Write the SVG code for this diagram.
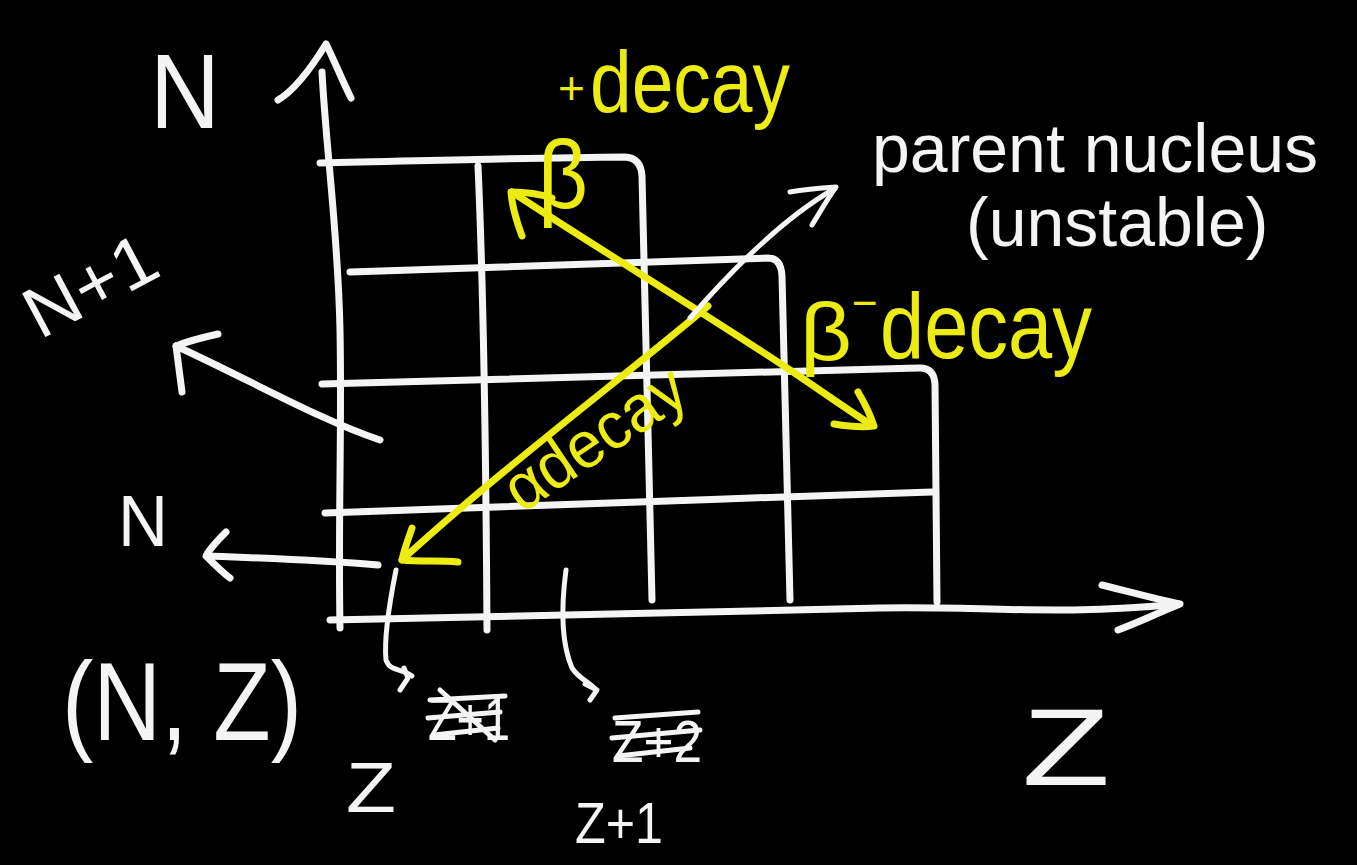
<svg xmlns="http://www.w3.org/2000/svg" width="1357" height="865" viewBox="0 0 1357 865">
  <style>
    .ink { fill: none; stroke: #f4f4f4; stroke-width: 7; stroke-linecap: round; stroke-linejoin: round; }
    .hi { fill: none; stroke: #ecec12; stroke-width: 7; stroke-linecap: round; stroke-linejoin: round; }
    .thin { stroke-width: 5; }
    .lbl { fill: #f4f4f4; font-family: "Liberation Sans", "DejaVu Sans", sans-serif; }
    .ylbl { fill: #ecec12; font-family: "Liberation Sans", "DejaVu Sans", sans-serif; }
  </style>
  <rect width="1357" height="865" fill="#000"/>

  <!-- axes and grid of nuclides -->
  <g id="grid">
    <!-- N axis -->
    <path class="ink" d="M322 72 C326 150 338 230 340 330 C342 430 338 520 340 628"/>
    <path class="ink" d="M278 100 C295 90 310 70 326 44 C335 62 342 80 351 98"/>
    <!-- Z axis -->
    <path class="ink" d="M330 620 C500 617 700 612 880 608 C980 606 1060 616 1178 604"/>
    <path class="ink" d="M1102 585 C1130 592 1160 600 1180 604 C1160 612 1140 622 1118 630"/>
    <!-- rows -->
    <path class="ink" d="M320 163 C420 161 520 158 625 157 Q641 158 642 176 L652 600"/>
    <path class="ink" d="M350 272 C480 268 620 263 768 258 Q781 258 782 276 L790 600"/>
    <path class="ink" d="M322 384 C520 378 720 372 920 368 Q934 368 935 384 L937 602"/>
    <path class="ink" d="M325 513 C520 507 730 498 932 492"/>
    <!-- column -->
    <path class="ink" d="M478 166 C484 300 486 460 487 630"/>
  </g>

  <!-- decay and pointer arrows -->
  <g id="connectors">
    <!-- beta plus / beta minus double arrow -->
    <path class="hi" d="M512 192 C600 250 700 310 790 370 C820 390 845 408 870 424"/>
    <path class="hi" d="M522 236 C516 220 512 206 511 192 C525 192 540 194 552 198"/>
    <path class="hi" d="M858 392 C864 402 870 414 874 426 C860 428 846 426 834 424"/>
    <!-- alpha decay arrow -->
    <path class="hi" d="M708 306 C620 380 500 470 402 560"/>
    <path class="hi" d="M412 528 C408 540 404 550 402 560 C420 562 440 560 458 562"/>
    <!-- pointer to parent nucleus -->
    <path class="ink thin" d="M690 318 C730 272 780 220 834 189"/>
    <path class="ink thin" d="M790 192 C806 189 820 188 836 187 C828 198 820 212 812 225"/>
    <!-- pointer N+1 -->
    <path class="ink" d="M380 440 C320 420 250 380 176 346"/>
    <path class="ink" d="M218 334 C200 338 186 342 176 346 C178 362 180 376 182 392"/>
    <!-- pointer N -->
    <path class="ink" d="M378 565 C320 560 260 558 208 556"/>
    <path class="ink" d="M226 532 C218 540 210 548 206 556 C214 564 222 572 230 578"/>
    <!-- hooks down to Z labels -->
    <path class="ink thin" d="M396 570 C390 600 384 640 386 660 C390 672 402 668 412 676"/>
    <path class="ink thin" d="M404 668 L408 678 L400 690"/>
    <path class="ink thin" d="M566 570 C562 600 560 640 572 668 C580 680 590 682 596 690"/>
    <path class="ink thin" d="M585 684 L597 690 L590 700"/>
  </g>

  <!-- axis labels -->
  <g id="label-n-top">
    <text class="lbl" x="150" y="128" font-size="105" textLength="70" lengthAdjust="spacingAndGlyphs">N</text>
  </g>
  <g id="label-n-plus-1">
    <text class="lbl" x="40" y="340" font-size="72" transform="rotate(-28 40 340)" textLength="140" lengthAdjust="spacingAndGlyphs">N+1</text>
  </g>
  <g id="label-n">
    <text class="lbl" x="118" y="546" font-size="72" textLength="50" lengthAdjust="spacingAndGlyphs">N</text>
  </g>
  <g id="label-nz">
    <text class="lbl" x="62" y="740" font-size="112" textLength="240" lengthAdjust="spacingAndGlyphs">(N, Z)</text>
  </g>
  <g id="label-z-axis">
    <text class="lbl" x="1022" y="785" font-size="110" textLength="88" lengthAdjust="spacingAndGlyphs">Z</text>
  </g>

  <!-- column labels under the Z axis -->
  <g id="label-z-col">
    <text class="lbl" x="346" y="812" font-size="70" textLength="50" lengthAdjust="spacingAndGlyphs">Z</text>
    <text class="lbl" x="428" y="740" font-size="62" textLength="82" lengthAdjust="spacingAndGlyphs">Z+1</text>
    <path class="ink thin" d="M430 700 L505 696 M428 718 L500 712 M434 735 L498 728 M440 690 L495 740"/>
  </g>
  <g id="label-z1-col">
    <text class="lbl" x="575" y="843" font-size="58" textLength="88" lengthAdjust="spacingAndGlyphs">Z+1</text>
    <text class="lbl" x="612" y="762" font-size="60" textLength="90" lengthAdjust="spacingAndGlyphs">Z+2</text>
    <path class="ink thin" d="M615 718 L698 712 M612 738 L700 730 M618 756 L690 748"/>
  </g>

  <!-- parent nucleus callout -->
  <g id="parent-nucleus">
    <text class="lbl" x="872" y="172" font-size="68">parent nucleus</text>
    <text class="lbl" x="966" y="246" font-size="68">(unstable)</text>
  </g>

  <!-- decay labels -->
  <g id="beta-plus">
    <text class="ylbl" x="538" y="208" font-size="96" textLength="50" lengthAdjust="spacingAndGlyphs">β</text>
    <text class="ylbl" x="558" y="104" font-size="46">+</text>
    <text class="ylbl" x="590" y="112" font-size="88" textLength="200" lengthAdjust="spacingAndGlyphs">decay</text>
  </g>
  <g id="beta-minus">
    <text class="ylbl" x="800" y="360" font-size="82" textLength="52" lengthAdjust="spacingAndGlyphs">β</text>
    <text class="ylbl" x="852" y="318" font-size="44">−</text>
    <text class="ylbl" x="880" y="358" font-size="92" textLength="212" lengthAdjust="spacingAndGlyphs">decay</text>
  </g>
  <g id="alpha">
    <text class="ylbl" x="522" y="514" font-size="66" transform="rotate(-34 522 514)" textLength="205" lengthAdjust="spacingAndGlyphs">αdecay</text>
  </g>
</svg>
